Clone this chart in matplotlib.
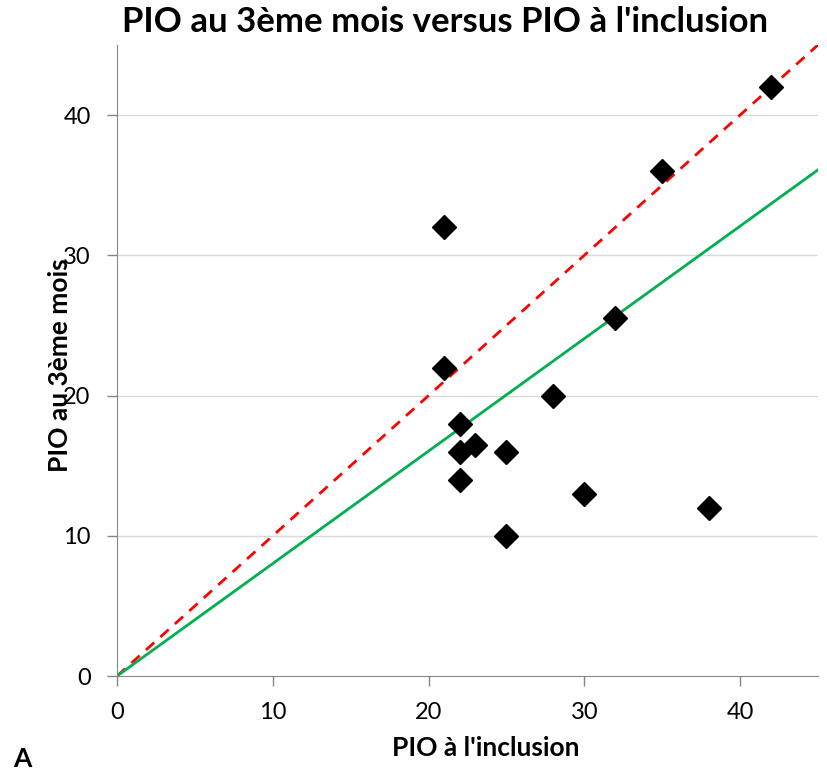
import matplotlib.pyplot as plt
import numpy as np
import matplotlib as mpl

mpl.rcParams['font.family'] = ['Lato', 'DejaVu Sans']

# PIO à l'inclusion vs PIO au 3ème mois
pio_inclusion = [21, 21, 22, 22, 22, 23, 25, 25, 28, 30, 32, 35, 38, 42]
pio_3mois = [32, 22, 18, 16, 14, 16.5, 16, 10, 20, 13, 25.5, 36, 12, 42]
trend_slope = 0.802
x_ticks = [0, 10, 20, 30, 40]
y_ticks = [0, 10, 20, 30, 40]

fig = plt.figure(figsize=(8.27, 7.74), dpi=100)
ax = fig.add_axes([0.1415, 0.1266, 0.8475, 0.8153])

ax.set_xlim(0, 45)
ax.set_ylim(0, 45)
for y in y_ticks[1:]:
    ax.axhline(y, color='#d9d9d9', lw=1, zorder=0)

line_x = np.array([0, 45])
ax.plot(line_x, line_x, color='#ff0000', ls=(0, (4, 3)), lw=2, zorder=2)
ax.plot(line_x, trend_slope * line_x, color='#00b050', lw=2, zorder=2)
ax.plot(pio_inclusion, pio_3mois, 'D', color='black', markersize=12, zorder=3)

ax.set_xticks(x_ticks)
ax.set_yticks(y_ticks)
ax.tick_params(axis='both', labelsize=17, color='#868686', length=7, width=1)
ax.tick_params(axis='x', pad=12)
ax.tick_params(axis='y', pad=12)
for side in ['top', 'right']:
    ax.spines[side].set_visible(False)
for side in ['left', 'bottom']:
    ax.spines[side].set_color('#868686')

fig.text(0.538, 0.971, "PIO au 3ème mois versus PIO à l'inclusion", ha='center', va='center',
         fontsize=25, fontweight='bold')
fig.text(0.587, 0.034, "PIO à l'inclusion", ha='center', va='center', fontsize=19, fontweight='bold')
fig.text(0.073, 0.528, "PIO au 3ème mois", ha='center', va='center', rotation=90, fontsize=19,
         fontweight='bold')
fig.text(0.027, 0.019, "A", ha='center', va='center', fontsize=19, fontweight='bold')

fig.savefig('out.png', dpi=100)
